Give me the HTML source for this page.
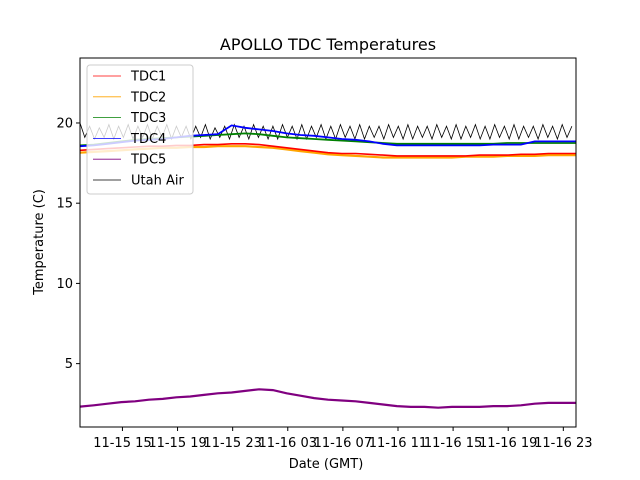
<!DOCTYPE html>
<html><head><meta charset="utf-8"><style>
body{margin:0;background:#fff;}
svg{display:block;font-family:"DejaVu Sans","Liberation Sans",sans-serif;}
</style></head><body>
<svg id="chart" width="640" height="480">
<rect width="640" height="480" fill="#fff"/>
<text x="328" y="50" text-anchor="middle" font-size="16">APOLLO TDC Temperatures</text>
<g id="plot"></g>
<rect x="80" y="58" width="496" height="369" fill="none" stroke="#000" stroke-width="1"/>
<g id="axes"></g>
<text x="326" y="468" text-anchor="middle" font-size="13">Date (GMT)</text>
<text transform="translate(43,242) rotate(-90)" text-anchor="middle" font-size="13">Temperature (C)</text>
<g id="legend"></g>
</svg>
<script>
// hourly samples, t = 0..36 hours from left edge
const tdc1 = [18.3,18.35,18.4,18.45,18.5,18.55,18.55,18.6,18.6,18.65,18.65,18.7,18.7,18.65,18.55,18.45,18.35,18.25,18.15,18.1,18.1,18.05,18.0,17.95,17.95,17.95,17.95,17.95,17.95,18.0,18.0,18.0,18.05,18.05,18.1,18.1,18.1];
const tdc2 = [18.15,18.2,18.25,18.3,18.35,18.4,18.45,18.45,18.5,18.5,18.55,18.55,18.55,18.5,18.45,18.35,18.25,18.15,18.05,18.0,17.95,17.9,17.85,17.85,17.85,17.85,17.85,17.85,17.9,17.9,17.9,17.95,17.95,17.95,18.0,18.0,18.0];
const tdc3 = [18.6,18.65,18.75,18.85,18.95,19.0,19.05,19.1,19.15,19.2,19.25,19.3,19.35,19.3,19.2,19.1,19.05,19.0,18.95,18.9,18.85,18.8,18.75,18.7,18.7,18.7,18.7,18.7,18.7,18.7,18.7,18.75,18.75,18.75,18.75,18.75,18.75];
const tdc4 = [18.55,18.6,18.7,18.8,18.9,18.95,19.0,19.1,19.2,19.25,19.3,19.85,19.7,19.6,19.5,19.35,19.25,19.2,19.1,19.0,18.95,18.85,18.7,18.6,18.6,18.6,18.6,18.6,18.6,18.6,18.65,18.65,18.65,18.85,18.85,18.85,18.85];
const tdc5 = [2.32,2.4,2.5,2.6,2.65,2.75,2.8,2.9,2.95,3.05,3.15,3.2,3.3,3.4,3.35,3.15,3.0,2.85,2.75,2.7,2.65,2.55,2.45,2.35,2.3,2.3,2.25,2.3,2.3,2.3,2.35,2.35,2.4,2.5,2.55,2.55,2.55];
// Utah Air sampled every 0.35 h (oscillating)
const utahAir = [20.0,19.1,19.8,19.0,19.7,19.1,19.9,19.0,19.8,19.1,19.9,19.0,19.8,19.1,19.9,19.0,19.8,19.1,19.9,19.0,19.8,19.1,19.8,19.0,19.8,19.1,19.9,19.0,19.7,19.1,19.8,19.0,19.9,19.1,19.8,19.0,19.9,19.1,19.8,19.0,19.8,19.0,19.9,19.1,19.8,19.0,19.9,19.0,19.8,19.1,19.9,19.0,19.8,19.0,19.9,19.1,19.8,19.0,19.9,19.0,19.8,19.1,19.8,19.0,19.9,19.1,19.8,19.0,19.9,19.0,19.8,19.1,19.8,19.0,19.9,19.1,19.8,19.0,19.9,19.0,19.8,19.1,19.9,19.0,19.8,19.0,19.9,19.1,19.8,19.0,19.9,19.0,19.8,19.1,19.8,19.0,19.9,19.1,19.8,19.0,19.9,19.1,19.8];
const yTicks = [5,10,15,20];
const xTickHours = [3.08,7.08,11.08,15.08,19.08,23.08,27.08,31.08,35.08];
const xTickLabels = ["11-15 15","11-15 19","11-15 23","11-16 03","11-16 07","11-16 11","11-16 15","11-16 19","11-16 23"];
const seriesNames = ["TDC1","TDC2","TDC3","TDC4","TDC5","Utah Air"];
const seriesColors = ["#ff0000","#ffa500","#008000","#0000ff","#800080","#000000"];

const NS="http://www.w3.org/2000/svg";
const X0=80,X1=576,Y0=58,Y1=427,TMAX=36,VMIN=1.05,VMAX=24.05;
function xs(t){return X0+t*(X1-X0)/TMAX;}
function ys(v){return Y1-(v-VMIN)*(Y1-Y0)/(VMAX-VMIN);}
function mk(tag,attrs,parent){const e=document.createElementNS(NS,tag);for(const k in attrs)e.setAttribute(k,attrs[k]);parent.appendChild(e);return e;}
const plot=document.getElementById('plot'),axes=document.getElementById('axes'),legend=document.getElementById('legend');
function drawLine(arr,step,color,w,name){
  const d=arr.map((v,i)=>(i?'L':'M')+xs(Math.min(i*step,TMAX)).toFixed(1)+','+ys(v).toFixed(1)).join('');
  const p=mk('path',{d:d,fill:'none',stroke:color,'stroke-width':w},plot);
  
  
}
drawLine(tdc5,1,seriesColors[4],2.2,'series-tdc5');
drawLine(tdc2,1,seriesColors[1],2.2,'series-tdc2');
drawLine(tdc1,1,seriesColors[0],1.6,'series-tdc1');
drawLine(utahAir,0.35,seriesColors[5],0.8,'series-utah-air');
drawLine(tdc3,1,seriesColors[2],1.8,'series-tdc3');
drawLine(tdc4,1,seriesColors[3],1.8,'series-tdc4');
yTicks.forEach(v=>{
  const y=ys(v);
  const l=mk('line',{x1:X0-4,x2:X0,y1:y,y2:y,stroke:'#000'},axes);
  
  
  const t=mk('text',{x:X0-7,y:y+4.5,'text-anchor':'end','font-size':'13'},axes);t.textContent=v;
  
  
});
xTickHours.forEach((h,i)=>{
  const x=xs(h);
  const l=mk('line',{x1:x,x2:x,y1:Y1,y2:Y1+4,stroke:'#000'},axes);
  
  
  const t=mk('text',{x:x,y:Y1+20,'text-anchor':'middle','font-size':'13'},axes);t.textContent=xTickLabels[i];
  
  
});
const box=mk('rect',{x:87,y:65,width:106,height:129,rx:3,fill:'rgba(255,255,255,0.8)',stroke:'#ccc'},legend);


seriesNames.forEach((n,i)=>{
  const y=76+i*20.8;
  const g=mk('g',{},legend);
  
  
  mk('line',{x1:93,x2:121,y1:y,y2:y,stroke:seriesColors[i],'stroke-width':0.8},g);
  const t=mk('text',{x:131,y:y+4.5,'font-size':'13'},g);t.textContent=n;
});
</script>
</body></html>
